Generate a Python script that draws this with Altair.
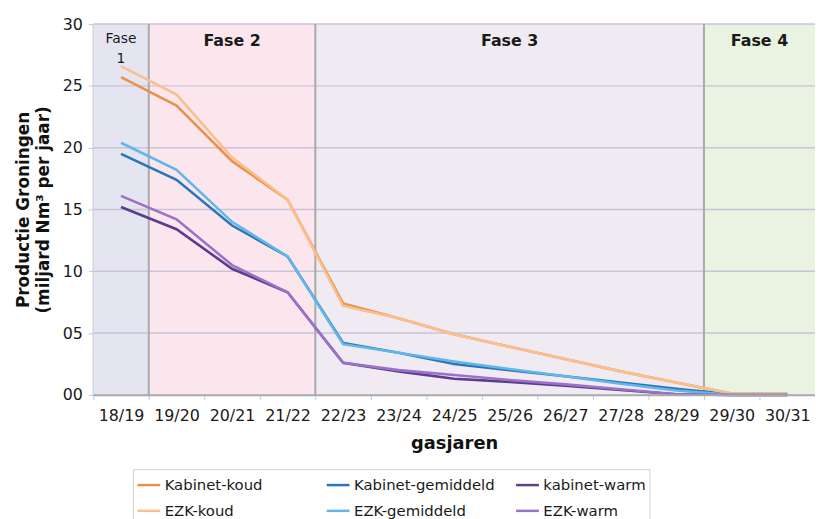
import altair as alt
import pandas as pd

years = ["18/19", "19/20", "20/21", "21/22", "22/23", "23/24", "24/25",
         "25/26", "26/27", "27/28", "28/29", "29/30", "30/31"]

kab_koud = [25.7, 23.4, 18.9, 15.8, 7.4, 6.2, 4.9, 3.9, 2.9, 1.9, 1.0, 0.1, 0.1]
ezk_koud = [26.6, 24.3, 19.2, 15.8, 7.2, 6.2, 4.9, 3.9, 2.9, 1.9, 1.0, 0.1, 0.1]
kab_gem = [19.5, 17.4, 13.7, 11.2, 4.2, 3.4, 2.5, 2.0, 1.5, 1.0, 0.5, 0.05, 0.05]
ezk_gem = [20.4, 18.2, 14.0, 11.2, 4.1, 3.4, 2.7, 2.1, 1.5, 0.9, 0.35, 0.0, 0.0]
kab_warm = [15.2, 13.4, 10.2, 8.3, 2.6, 1.9, 1.3, 1.05, 0.75, 0.4, 0.05, 0.0, 0.0]
ezk_warm = [16.1, 14.2, 10.5, 8.3, 2.6, 2.0, 1.6, 1.2, 0.85, 0.45, 0.05, 0.0, 0.0]

series_names = ["Kabinet-koud", "Kabinet-gemiddeld", "kabinet-warm",
                "EZK-koud", "EZK-gemiddeld", "EZK-warm"]
series_values = [kab_koud, kab_gem, kab_warm, ezk_koud, ezk_gem, ezk_warm]
series_colors = ["#E8914A", "#2A77B8", "#5A3D8C", "#F9C08E", "#62B7E8", "#9B72C8"]

phase_names = ["Fase 1", "Fase 2", "Fase 3", "Fase 4"]
phase_start = ["18/19", "19/20", "22/23", "29/30"]
phase_end = ["18/19", "21/22", "28/29", "30/31"]
phase_colors = ["#E4E5F1", "#FCE6EE", "#F0EAF2", "#EAF3E1"]
phase_borders = ["19/20", "22/23", "29/30"]

fase1_text = ["Fase\n1"]
fase1_anchor = ["18/19"]
fase1_y = [28.8]
mid_text = ["Fase 2", "Fase 3"]
mid_anchor = ["20/21", "25/26"]
mid_y = [28.6, 28.6]
fase4_text = ["Fase 4"]
fase4_anchor = ["30/31"]
fase4_y = [28.6]

rows = []
for name, vals in zip(series_names, series_values):
    for yr, v in zip(years, vals):
        rows.append({"series": name, "year": yr, "value": v})
df = pd.DataFrame(rows)

phases = pd.DataFrame({"phase": phase_names, "start": phase_start, "end": phase_end})
borders = pd.DataFrame({"b": phase_borders})
labels1 = pd.DataFrame({"t": fase1_text, "a": fase1_anchor, "ty": fase1_y})
labels23 = pd.DataFrame({"t": mid_text, "a": mid_anchor, "ty": mid_y})
labels4 = pd.DataFrame({"t": fase4_text, "a": fase4_anchor, "ty": fase4_y})

xscale = alt.Scale(type="band", domain=years, paddingInner=0, paddingOuter=0)
yscale = alt.Scale(domain=[0, 30], nice=False)

xaxis = alt.Axis(title="gasjaren", tickBand="extent", labelAngle=0,
                 labelFontSize=16, labelColor="#1a1a1a", labelPadding=8,
                 titleFontSize=18, titleFontWeight="bold", titleColor="#111",
                 titlePadding=11, domainColor="#A7A9AC", domainWidth=2,
                 tickColor="#B8CCE0", tickSize=5, grid=False)
yaxis = alt.Axis(title=["Productie Groningen", "(miljard Nm³ per jaar)"],
                 values=[0, 5, 10, 15, 20, 25, 30], format="02d",
                 labelFontSize=16, labelColor="#1a1a1a", labelPadding=6,
                 titleFontSize=17, titleFontWeight="bold", titleColor="#111",
                 titlePadding=10, titleLineHeight=20,
                 domainColor="#A7A9AC", domainWidth=2,
                 tickColor="#B8CCE0", tickSize=5, grid=False)

bg = alt.Chart(phases).mark_rect().encode(
    x=alt.X("start:N", scale=xscale, bandPosition=0, axis=xaxis),
    x2=alt.X2("end:N", bandPosition=1),
    fill=alt.Fill("phase:N", scale=alt.Scale(domain=phase_names, range=phase_colors), legend=None),
)

grid = alt.Chart(pd.DataFrame({"g": [5, 10, 15, 20, 25, 30]})).mark_rule(
    color="#C9C3DA", strokeWidth=1.5
).encode(y=alt.Y("g:Q", scale=yscale, axis=yaxis))

seps = alt.Chart(borders).mark_rule(color="#A7A9AC", strokeWidth=2).encode(
    x=alt.X("b:N", scale=xscale, bandPosition=0, axis=xaxis)
)

lines = alt.Chart(df).mark_line(strokeWidth=2.6).encode(
    x=alt.X("year:N", scale=xscale, sort=years, axis=xaxis),
    y=alt.Y("value:Q", scale=yscale, axis=yaxis),
    stroke=alt.Stroke("series:N",
                      scale=alt.Scale(domain=series_names, range=series_colors),
                      legend=alt.Legend(title=None, orient="none", legendX=40, legendY=449,
                                        columns=3, direction="horizontal", gridAlign="all",
                                        columnPadding=16, rowPadding=5,
                                        symbolType="stroke", symbolSize=529,
                                        symbolStrokeWidth=2.5, labelFontSize=15,
                                        labelColor="#1a1a1a", labelOffset=3,
                                        strokeColor="#C8D0DC", fillColor="white",
                                        padding=3)),
    order=alt.Order("series:N"),
    detail="series:N",
)

txt1 = alt.Chart(labels1).mark_text(lineBreak="\n", color="#1a1a1a", baseline="middle",
                                    lineHeight=20, fontSize=14).encode(
    x=alt.X("a:N", scale=xscale, bandPosition=0.5, axis=xaxis),
    y=alt.Y("ty:Q", scale=yscale, axis=yaxis),
    text="t:N",
)
txt23 = alt.Chart(labels23).mark_text(color="#1a1a1a", baseline="middle", fontSize=16,
                                      fontWeight="bold").encode(
    x=alt.X("a:N", scale=xscale, bandPosition=0.5, axis=xaxis),
    y=alt.Y("ty:Q", scale=yscale, axis=yaxis),
    text="t:N",
)
txt4 = alt.Chart(labels4).mark_text(color="#1a1a1a", baseline="middle", fontSize=16,
                                    fontWeight="bold").encode(
    x=alt.X("a:N", scale=xscale, bandPosition=0, axis=xaxis),
    y=alt.Y("ty:Q", scale=yscale, axis=yaxis),
    text="t:N",
)

chart = alt.layer(bg, grid, seps, lines, txt1, txt23, txt4).properties(
    width=728, height=374,
    autosize=alt.AutoSizeParams(type="none"),
    padding={"left": 86, "top": 14, "right": 0, "bottom": 123},
).configure_view(strokeWidth=0).configure(font="DejaVu Sans")

chart.save("out.html", embed_options={"renderer": "svg", "actions": False})
